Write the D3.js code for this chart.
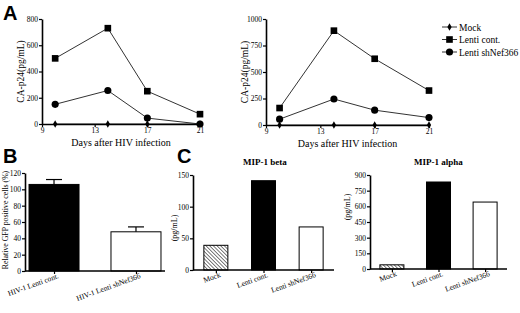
<!DOCTYPE html>
<html>
<head>
<meta charset="utf-8">
<script src="https://cdn.jsdelivr.net/npm/d3@7"></script>
<style>
  body { margin: 0; background: #fff; }
  svg { display: block; font-family: "Liberation Serif", "Times New Roman", serif; }
</style>
</head>
<body>
<svg id="fig" width="520" height="313"></svg>
<script>
// --- data ---
const days = [10, 14, 17, 21];
const seriesNames = ["Mock", "Lenti cont.", "Lenti shNef366"];
const a1Mock = [0, 0, 0, 0];
const a1Cont = [500, 730, 250, 75];
const a1Sh = [150, 255, 45, 0];
const a2Mock = [0, 0, 0, 0];
const a2Cont = [160, 890, 625, 325];
const a2Sh = [55, 245, 140, 70];
const xTicks = [9, 13, 17, 21];
const a1Ticks = [0, 200, 400, 600, 800];
const a2Ticks = [0, 250, 500, 750, 1000];

const gfpCats = ["HIV-1 Lenti cont.", "HIV-1 Lenti shNef366"];
const gfpVals = [106, 48];
const gfpErr = [6, 6];
const gfpTicks = [0, 20, 40, 60, 80, 100, 120];

const mipCats = ["Mock", "Lenti cont.", "Lenti shNef366"];
const mipBeta = [39, 141, 68];
const mipAlpha = [40, 833, 641];
const betaTicks = [0, 50, 100, 150];
const alphaTicks = [0, 150, 300, 450, 600, 750, 900];

const svg = d3.select("#fig");

// hatch pattern for the Mock bars
svg.append("defs").append("pattern")
    .attr("id", "hatch")
    .attr("patternUnits", "userSpaceOnUse")
    .attr("width", 2.6).attr("height", 2.6)
    .attr("patternTransform", "rotate(-45)")
  .call(p => p.append("rect").attr("width", 2.6).attr("height", 2.6).attr("fill", "#fff"))
  .call(p => p.append("line").attr("x1", 0).attr("y1", 0).attr("x2", 0).attr("y2", 2.6)
      .attr("stroke", "#333").attr("stroke-width", 1.3));

function styleAxis(g) {
  g.select(".domain").attr("stroke-width", 1.6);
  g.selectAll(".tick line").attr("stroke-width", 1.2);
  g.selectAll(".tick text").attr("font-family", "Liberation Serif").attr("font-size", 7.5);
}

function panelLetter(x, y, t) {
  svg.append("text").attr("x", x).attr("y", y)
    .attr("font-family", "Liberation Sans, Arial, sans-serif")
    .attr("font-weight", "bold").attr("font-size", 20).text(t);
}

const symbols = [d3.symbolDiamond, d3.symbolSquare, d3.symbolCircle];
const symSize = [16, 44, 40];

function linePanel({x0, x1, y0, y1, yMax, ticks, series}) {
  const x = d3.scaleLinear().domain([9, 21]).range([x0, x1]);
  const y = d3.scaleLinear().domain([0, yMax]).range([y0, y1]);
  const line = d3.line().x((d, i) => x(days[i])).y(d => y(d));

  series.forEach((vals, k) => {
    svg.append("path").datum(vals)
      .attr("fill", "none").attr("stroke", "#333").attr("stroke-width", 1)
      .attr("d", line);
  });

  svg.append("g").attr("transform", `translate(0,${y0})`)
    .call(d3.axisBottom(x).tickValues(xTicks).tickSize(3).tickPadding(1).tickSizeOuter(0))
    .call(styleAxis);
  svg.append("g").attr("transform", `translate(${x0},0)`)
    .call(d3.axisLeft(y).tickValues(ticks).tickFormat(d3.format("d")).tickSize(3).tickPadding(1).tickSizeOuter(0))
    .call(styleAxis);

  series.forEach((vals, k) => {
    svg.append("g").selectAll("path").data(vals).join("path")
      .attr("transform", (d, i) => `translate(${x(days[i])},${y(d)})`)
      .attr("d", d3.symbol(symbols[k], symSize[k]))
      .attr("fill", "#000");
  });

  svg.append("text")
    .attr("x", (x0 + x1) / 2).attr("y", y0 + 22)
    .attr("text-anchor", "middle").attr("font-size", 10)
    .text("Days after HIV infection");
  svg.append("text")
    .attr("transform", `translate(${x0 - 18},${(y0 + y1) / 2}) rotate(-90)`)
    .attr("text-anchor", "middle").attr("font-size", 9.5)
    .text("CA-p24(pg/mL)");
}

function barPanel({x0, x1, y0, y1, yMax, ticks, cats, vals, pad, bw, fills, err, rot}) {
  const x = d3.scalePoint().domain(cats).range([x0, x1]).padding(pad);
  const y = d3.scaleLinear().domain([0, yMax]).range([y0, y1]);

  svg.append("g").selectAll("rect").data(vals).join("rect")
    .attr("x", (d, i) => x(cats[i]) - bw / 2)
    .attr("y", d => y(d))
    .attr("width", bw)
    .attr("height", d => y0 - y(d))
    .attr("fill", (d, i) => fills[i])
    .attr("stroke", "#000").attr("stroke-width", 1);

  if (err) {
    const eg = svg.append("g").attr("stroke", "#000").attr("stroke-width", 1.2);
    vals.forEach((v, i) => {
      const cx = x(cats[i]);
      eg.append("line").attr("x1", cx).attr("x2", cx).attr("y1", y(v)).attr("y2", y(v + err[i]));
      eg.append("line").attr("x1", cx - 8).attr("x2", cx + 8).attr("y1", y(v + err[i])).attr("y2", y(v + err[i]));
    });
  }

  svg.append("g").attr("transform", `translate(0,${y0})`)
    .call(d3.axisBottom(x).tickSize(3).tickSizeOuter(0))
    .call(styleAxis)
    .call(g => g.select(".domain").attr("d", `M${x0},0H${x1}`))
    .call(g => g.selectAll(".tick text")
      .attr("text-anchor", "end")
      .attr("dy", 0).attr("y", 8).attr("x", 2)
      .attr("transform", `rotate(${rot})`));
  svg.append("g").attr("transform", `translate(${x0},0)`)
    .call(d3.axisLeft(y).tickValues(ticks).tickSize(3).tickPadding(1).tickSizeOuter(0))
    .call(styleAxis);
  return {x, y};
}

// A
panelLetter(3, 20, "A");
linePanel({x0: 42, x1: 200, y0: 124, y1: 19, yMax: 800, ticks: a1Ticks, series: [a1Mock, a1Cont, a1Sh]});
linePanel({x0: 266, x1: 429, y0: 125, y1: 19, yMax: 1000, ticks: a2Ticks, series: [a2Mock, a2Cont, a2Sh]});

// legend
const leg = svg.append("g");
seriesNames.forEach((name, k) => {
  const ly = 27 + k * 12.5;
  leg.append("line").attr("x1", 442).attr("x2", 457).attr("y1", ly).attr("y2", ly)
    .attr("stroke", "#333").attr("stroke-width", 1);
  leg.append("path").attr("transform", `translate(449.5,${ly})`)
    .attr("d", d3.symbol(symbols[k], symSize[k])).attr("fill", "#000");
  leg.append("text").attr("x", 459).attr("y", ly + 3.5).attr("font-size", 9.5).text(name);
});

// B
panelLetter(3, 163, "B");
barPanel({x0: 25, x1: 165, y0: 271, y1: 173, yMax: 120, ticks: gfpTicks,
  cats: gfpCats, vals: gfpVals, pad: 0.354, bw: 50, fills: ["#000", "#fff"], err: gfpErr, rot: -20});
svg.append("text")
  .attr("transform", `translate(8,220) rotate(-90)`)
  .attr("text-anchor", "middle").attr("font-size", 7.8)
  .text("Relative GFP positive cells (%)");

// C
panelLetter(177, 163, "C");
barPanel({x0: 193, x1: 334, y0: 270, y1: 175, yMax: 150, ticks: betaTicks,
  cats: mipCats, vals: mipBeta, pad: 0.48, bw: 24, fills: ["url(#hatch)", "#000", "#fff"], rot: -20});
barPanel({x0: 370, x1: 507, y0: 269, y1: 175, yMax: 900, ticks: alphaTicks,
  cats: mipCats, vals: mipAlpha, pad: 0.47, bw: 24, fills: ["url(#hatch)", "#000", "#fff"], rot: -20});

svg.append("text").attr("x", 243).attr("y", 165)
  .attr("font-weight", "bold").attr("font-size", 9).text("MIP-1 beta");
svg.append("text").attr("x", 414).attr("y", 165)
  .attr("font-weight", "bold").attr("font-size", 9).text("MIP-1 alpha");

svg.append("text").attr("transform", "translate(177,228) rotate(-90)")
  .attr("text-anchor", "middle").attr("font-size", 8).text("(pg/mL)");
svg.append("text").attr("transform", "translate(350,207) rotate(-90)")
  .attr("text-anchor", "middle").attr("font-size", 8).text("(pg/mL)");
</script>
</body>
</html>
